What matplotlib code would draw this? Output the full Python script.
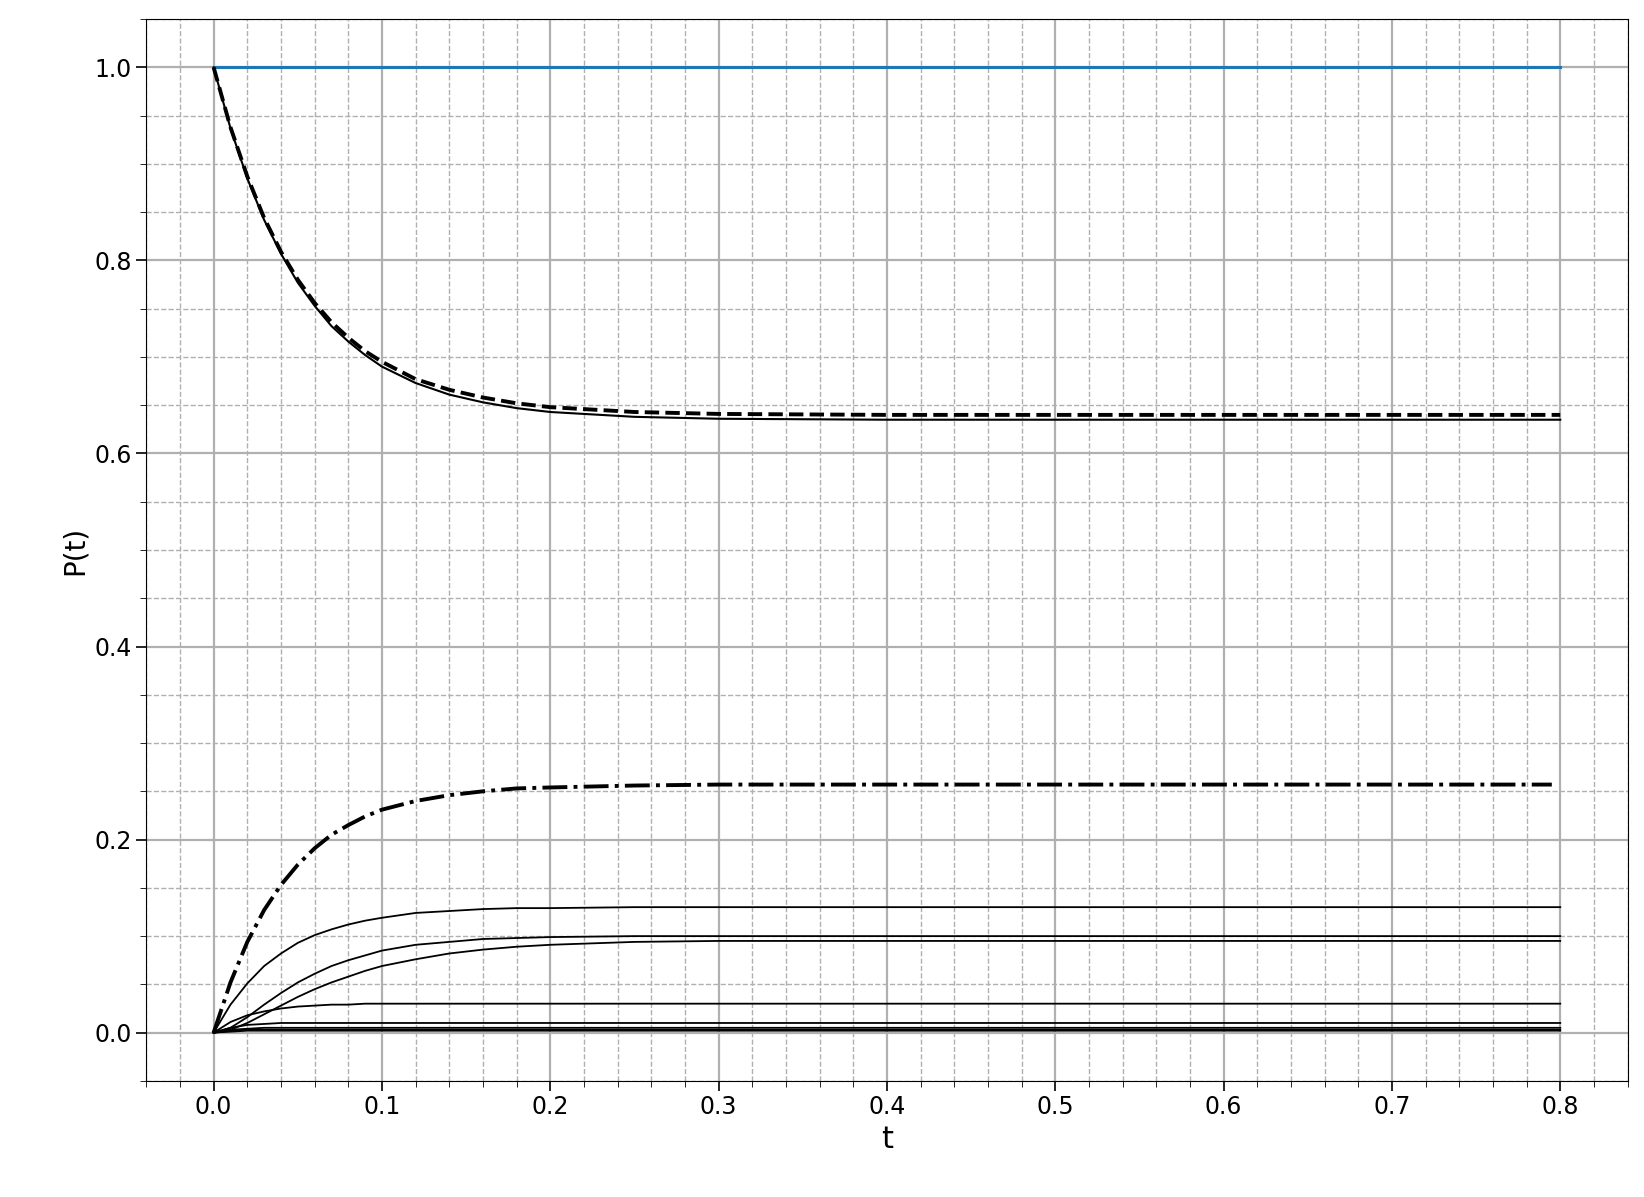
import numpy as np
import matplotlib.pyplot as plt
from matplotlib.ticker import MultipleLocator

t = [0.0, 0.01, 0.02, 0.03, 0.04, 0.05, 0.06, 0.07, 0.08, 0.09, 0.1,
     0.12, 0.14, 0.16, 0.18, 0.2, 0.25, 0.3, 0.4, 0.5, 0.6, 0.7, 0.8]

p_total = [1.0] * len(t)
p_solid = [1.0, 0.937, 0.885, 0.842, 0.807, 0.777, 0.753, 0.732, 0.716, 0.702, 0.690,
           0.673, 0.661, 0.653, 0.647, 0.643, 0.638, 0.636, 0.635, 0.635, 0.635, 0.635, 0.635]
p_dashed = [1.0, 0.938, 0.887, 0.844, 0.809, 0.780, 0.756, 0.736, 0.720, 0.706, 0.695,
            0.677, 0.666, 0.658, 0.652, 0.648, 0.643, 0.641, 0.640, 0.640, 0.640, 0.640, 0.640]
p_dashdot = [0.0, 0.052, 0.094, 0.127, 0.153, 0.174, 0.191, 0.205, 0.215, 0.224, 0.231,
             0.240, 0.246, 0.250, 0.253, 0.254, 0.256, 0.257, 0.257, 0.257, 0.257, 0.257, 0.257]
thin_curves = [
    [0.0, 0.029, 0.051, 0.069, 0.082, 0.093, 0.101, 0.107, 0.112, 0.116, 0.119,
     0.124, 0.126, 0.128, 0.129, 0.129, 0.130, 0.130, 0.130, 0.130, 0.130, 0.130, 0.130],
    [0.0, 0.005, 0.016, 0.029, 0.041, 0.052, 0.061, 0.069, 0.075, 0.080, 0.085,
     0.091, 0.094, 0.097, 0.098, 0.099, 0.100, 0.100, 0.100, 0.100, 0.100, 0.100, 0.100],
    [0.0, 0.003, 0.010, 0.019, 0.028, 0.037, 0.045, 0.052, 0.058, 0.064, 0.069,
     0.076, 0.082, 0.086, 0.089, 0.091, 0.094, 0.095, 0.095, 0.095, 0.095, 0.095, 0.095],
    [0.0, 0.011, 0.018, 0.022, 0.025, 0.027, 0.028, 0.029, 0.029, 0.030, 0.030,
     0.030, 0.030, 0.030, 0.030, 0.030, 0.030, 0.030, 0.030, 0.030, 0.030, 0.030, 0.030],
    [0.0, 0.005, 0.008, 0.009, 0.010, 0.010, 0.010, 0.010, 0.010, 0.010, 0.010,
     0.010, 0.010, 0.010, 0.010, 0.010, 0.010, 0.010, 0.010, 0.010, 0.010, 0.010, 0.010],
    [0.0, 0.003, 0.004, 0.005, 0.005, 0.005, 0.005, 0.005, 0.005, 0.005, 0.005,
     0.005, 0.005, 0.005, 0.005, 0.005, 0.005, 0.005, 0.005, 0.005, 0.005, 0.005, 0.005],
    [0.0, 0.002, 0.003, 0.003, 0.003, 0.003, 0.003, 0.003, 0.003, 0.003, 0.003,
     0.003, 0.003, 0.003, 0.003, 0.003, 0.003, 0.003, 0.003, 0.003, 0.003, 0.003, 0.003],
    [0.0, 0.001, 0.002, 0.002, 0.002, 0.002, 0.002, 0.002, 0.002, 0.002, 0.002,
     0.002, 0.002, 0.002, 0.002, 0.002, 0.002, 0.002, 0.002, 0.002, 0.002, 0.002, 0.002],
]

fig, ax = plt.subplots(figsize=(16.44, 11.97), dpi=100)
ax.plot(t, p_total, color='tab:blue', lw=2.2)
ax.plot(t, p_solid, color='k', lw=1.5)
ax.plot(t, p_dashed, color='k', lw=2.8, ls='--')
ax.plot(t[:-1] + [0.795], p_dashdot, color='k', lw=2.8, ls='-.')
for c in thin_curves:
    ax.plot(t, c, color='k', lw=1.3)

ax.xaxis.set_major_locator(MultipleLocator(0.1))
ax.xaxis.set_minor_locator(MultipleLocator(0.02))
ax.yaxis.set_major_locator(MultipleLocator(0.2))
ax.yaxis.set_minor_locator(MultipleLocator(0.05))
ax.grid(True, which='major', color='#b0b0b0', lw=1.6)
ax.grid(True, which='minor', color='#b0b0b0', lw=1.0, ls='--')
ax.set_xlim(-0.04, 0.84)
ax.set_ylim(-0.05, 1.05)
ax.tick_params(labelsize=17, length=7, width=1.2)
ax.tick_params(which='minor', length=4)
ax.set_xlabel('t', fontsize=22)
ax.set_ylabel('P(t)', fontsize=20)
fig.subplots_adjust(left=0.089, right=0.99, top=0.984, bottom=0.097)
fig.savefig('out.png')
